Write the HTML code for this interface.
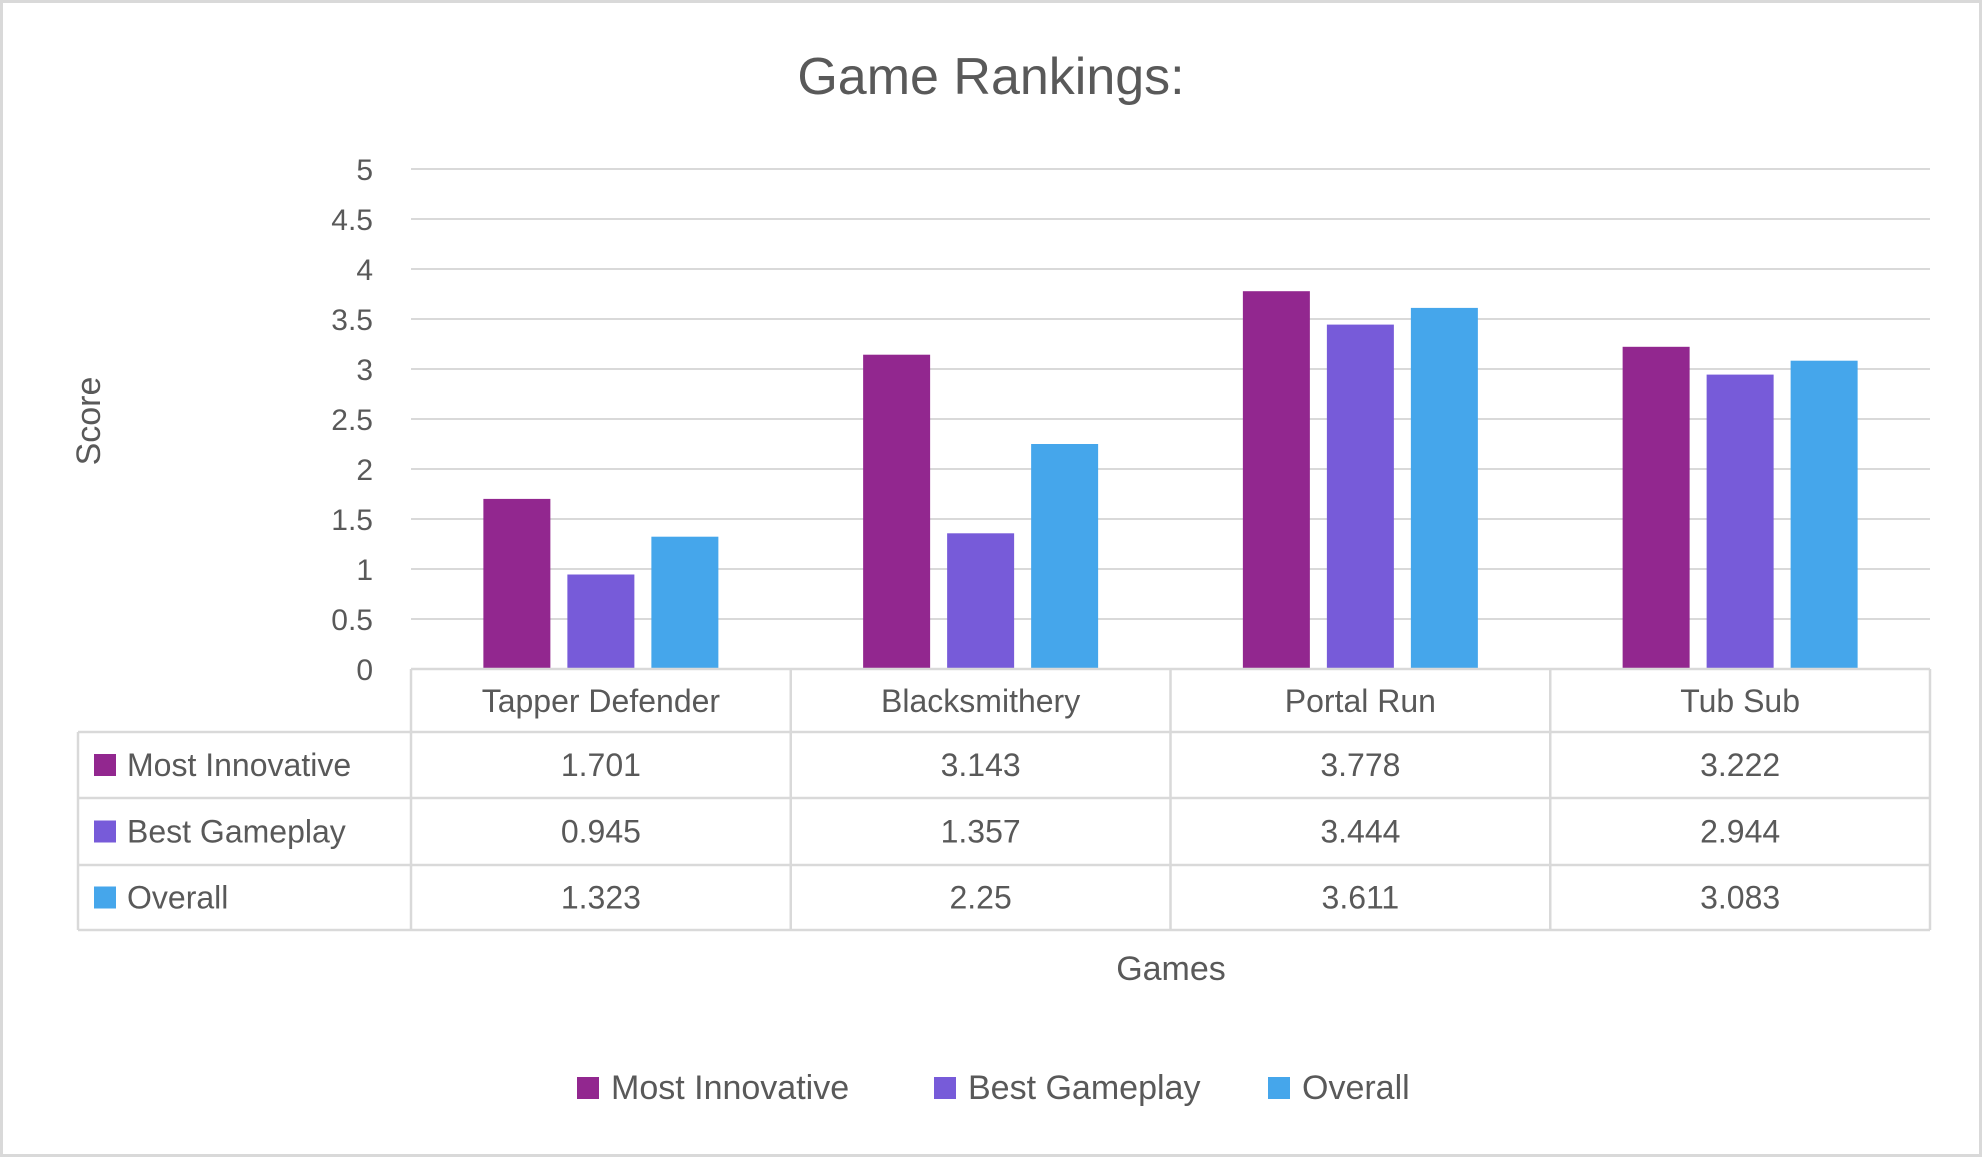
<!DOCTYPE html>
<html><head><meta charset="utf-8"><style>
html,body{margin:0;padding:0;background:#fff;}
svg{display:block;font-family:"Liberation Sans",sans-serif;}
</style></head><body>
<svg id="chart" width="1982" height="1157" viewBox="0 0 1982 1157" xmlns="http://www.w3.org/2000/svg">
<rect x="1.5" y="1.5" width="1979" height="1154" fill="#fff" stroke="#d9d9d9" stroke-width="3"/>
<text x="991" y="94" text-anchor="middle" font-size="52" fill="#595959">Game Rankings:</text>
<text transform="translate(100,421) rotate(-90)" text-anchor="middle" font-size="34" fill="#595959">Score</text>
<text x="1171" y="980" text-anchor="middle" font-size="34" fill="#595959">Games</text>
<g id="grid"></g><g id="bars"></g><g id="table"></g><g id="legend"></g>
</svg>
<script>
const categories = ["Tapper Defender","Blacksmithery","Portal Run","Tub Sub"];
const seriesNames = ["Most Innovative","Best Gameplay","Overall"];
const mostInnovative = [1.701,3.143,3.778,3.222];
const bestGameplay = [0.945,1.357,3.444,2.944];
const overall = [1.323,2.25,3.611,3.083];
const valueLabels = [["1.701","3.143","3.778","3.222"],["0.945","1.357","3.444","2.944"],["1.323","2.25","3.611","3.083"]];
const yTicks = [0,0.5,1,1.5,2,2.5,3,3.5,4,4.5,5];
const yTickLabels = ["0","0.5","1","1.5","2","2.5","3","3.5","4","4.5","5"];

const series = [mostInnovative,bestGameplay,overall];
const colors = ["#92278f","#775bd9","#45a6eb"];
const NS="http://www.w3.org/2000/svg";
const L=411,R=1930,Y0=669,Y5=169;
const catW=(R-L)/categories.length;
const y=v=>Y0-(v/5)*(Y0-Y5);
const xCat=i=>L+i*catW;
function mk(tag,attrs,parent,txt){const e=document.createElementNS(NS,tag);for(const k in attrs)e.setAttribute(k,attrs[k]);if(txt!==undefined)e.textContent=txt;parent.appendChild(e);return e;}
const grid=document.getElementById('grid');
yTicks.forEach((t,i)=>{
  if(t>0){const g=mk('line',{x1:L,x2:R,y1:y(t),y2:y(t),stroke:'#d9d9d9','stroke-width':2},grid);
  
  }
  const lb=mk('text',{x:373,y:y(t)+11,'text-anchor':'end','font-size':30,fill:'#595959'},grid,yTickLabels[i]);
  
  
});
const bars=document.getElementById('bars');
const bw=67,gap=17,off=(catW-(3*bw+2*gap))/2;
series.forEach((s,si)=>{s.forEach((v,ci)=>{
  const r=mk('rect',{x:xCat(ci)+off+si*(bw+gap),y:y(v),width:bw,height:Y0-y(v),fill:colors[si]},bars);
  
  
});});
const tb=document.getElementById('table');
const rows=[669,732,798,865,930];const TL=78;
const st={stroke:'#d9d9d9','stroke-width':2.5,fill:'none'};
mk('line',Object.assign({x1:L,x2:R,y1:rows[0],y2:rows[0]},st),tb);
for(let r=1;r<rows.length;r++)mk('line',Object.assign({x1:TL,x2:R,y1:rows[r],y2:rows[r]},st),tb);
mk('line',Object.assign({x1:TL,x2:TL,y1:rows[1],y2:rows[4]},st),tb);
for(let i=0;i<=categories.length;i++)mk('line',Object.assign({x1:xCat(i),x2:xCat(i),y1:rows[0],y2:rows[4]},st),tb);
categories.forEach((c,i)=>{
  const t=mk('text',{x:xCat(i)+catW/2,y:712,'text-anchor':'middle','font-size':32,fill:'#595959'},tb,c);
  
  
});
seriesNames.forEach((n,si)=>{
  const cy=(rows[si+1]+rows[si+2])/2;
  mk('rect',{x:94,y:cy-11,width:22,height:22,fill:colors[si]},tb);
  const t=mk('text',{x:127,y:cy+11,'font-size':32,fill:'#595959'},tb,n);
  
  
  valueLabels[si].forEach((v,ci)=>{
    const tv=mk('text',{x:xCat(ci)+catW/2,y:cy+11,'text-anchor':'middle','font-size':32,fill:'#595959'},tb,v);
    
    
  });
});
const lg=document.getElementById('legend');
const lx=[577,934,1268];
seriesNames.forEach((n,si)=>{
  const g=mk('g',{},lg);
  
  
  mk('rect',{x:lx[si],y:1077,width:22,height:22,fill:colors[si]},g);
  mk('text',{x:lx[si]+34,y:1099,'font-size':34,fill:'#595959'},g,n);
});
</script>
</body></html>
